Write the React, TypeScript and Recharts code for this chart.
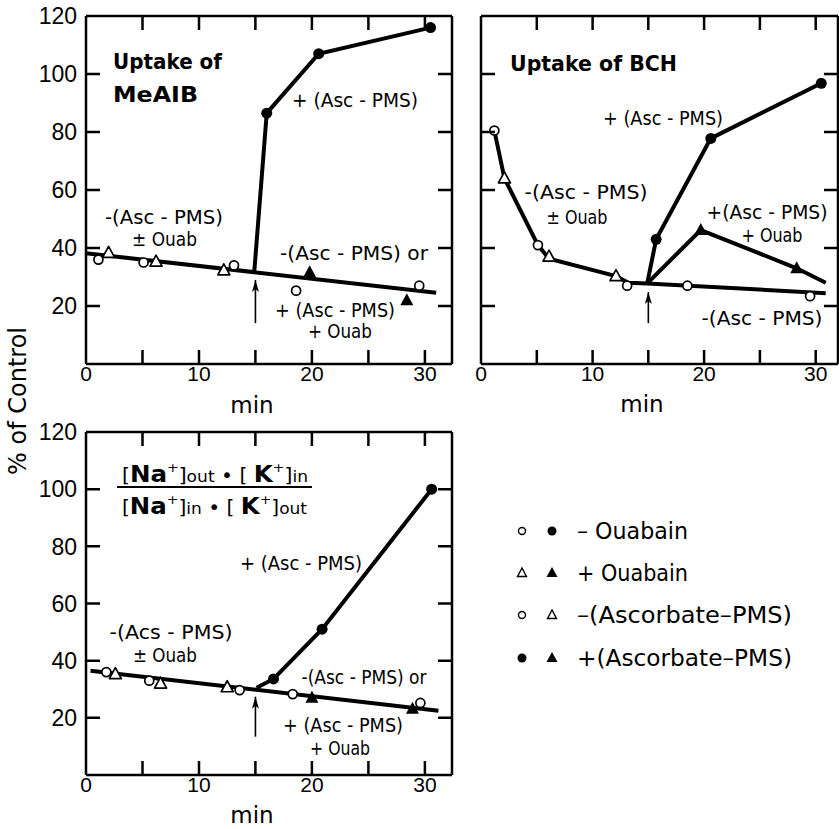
import React from 'react';
import { ComposedChart, Line, Scatter, XAxis, YAxis, ReferenceLine } from 'recharts';

const NUM_FONT = '"Liberation Sans", Arial, sans-serif';
const TXT_FONT = '"DejaVu Sans", "Liberation Sans", sans-serif';

type P = { x: number; y: number };

// ---------- Panel A: Uptake of MeAIB ----------
const meaibOpenCircles: P[] = [
  { x: 1.1, y: 36 }, { x: 5.1, y: 35 }, { x: 13.1, y: 34 }, { x: 18.6, y: 25.3 }, { x: 29.5, y: 27 },
];
const meaibOpenTriangles: P[] = [
  { x: 2.0, y: 38.3 }, { x: 6.2, y: 35.3 }, { x: 12.2, y: 32.3 },
];
const meaibFilledCircles: P[] = [
  { x: 16.0, y: 86.5 }, { x: 20.6, y: 107 }, { x: 30.5, y: 116 },
];
const meaibFilledTriangles: P[] = [
  { x: 19.8, y: 31.6 }, { x: 28.4, y: 22 },
];
const meaibBaseline: P[] = [{ x: 0, y: 38.2 }, { x: 31, y: 24.6 }];
const meaibAscPms: P[] = [{ x: 14.9, y: 32 }, { x: 16.0, y: 86.5 }, { x: 20.6, y: 107 }, { x: 30.5, y: 116 }];
const meaibArrow: P[] = [{ x: 15, y: 14.1 }, { x: 15, y: 29 }];

// ---------- Panel B: Uptake of BCH ----------
const bchOpenCircles: P[] = [
  { x: 1.2, y: 80.5 }, { x: 5.1, y: 41 }, { x: 13.1, y: 27 }, { x: 18.5, y: 27 }, { x: 29.5, y: 23.4 },
];
const bchOpenTriangles: P[] = [
  { x: 2.1, y: 64 }, { x: 6.1, y: 37 }, { x: 12.1, y: 30.3 },
];
const bchFilledCircles: P[] = [
  { x: 15.7, y: 43 }, { x: 20.6, y: 77.8 }, { x: 30.5, y: 96.8 },
];
const bchFilledTriangles: P[] = [
  { x: 19.7, y: 46.2 }, { x: 28.3, y: 33 },
];
const bchControl: P[] = [
  { x: 1.2, y: 80.5 }, { x: 2.1, y: 64 }, { x: 5.1, y: 41 }, { x: 6.1, y: 36.3 }, { x: 12.1, y: 30.3 },
  { x: 13.2, y: 28 }, { x: 14.9, y: 27.8 }, { x: 30.9, y: 24.4 },
];
const bchAscPms: P[] = [{ x: 14.9, y: 27.8 }, { x: 15.7, y: 43 }, { x: 20.6, y: 77.8 }, { x: 30.5, y: 96.8 }];
const bchAscPmsOuab: P[] = [{ x: 14.9, y: 27.8 }, { x: 19.7, y: 46.2 }, { x: 28.3, y: 33 }, { x: 30.9, y: 28 }];
const bchArrow: P[] = [{ x: 15, y: 14.1 }, { x: 15, y: 24.8 }];

// ---------- Panel C: Na/K ratio ----------
const ratioOpenCircles: P[] = [
  { x: 1.8, y: 36 }, { x: 5.6, y: 33 }, { x: 13.6, y: 29.7 }, { x: 18.3, y: 28.3 }, { x: 29.6, y: 25.2 },
];
const ratioOpenTriangles: P[] = [
  { x: 2.6, y: 35.3 }, { x: 6.6, y: 32 }, { x: 12.5, y: 30.7 },
];
const ratioFilledCircles: P[] = [
  { x: 16.6, y: 33.6 }, { x: 20.9, y: 51 }, { x: 30.6, y: 100 },
];
const ratioFilledTriangles: P[] = [
  { x: 20.0, y: 27 }, { x: 28.9, y: 23.2 },
];
const ratioBaseline: P[] = [{ x: 0.4, y: 36.5 }, { x: 31.2, y: 22.5 }];
const ratioAscPms: P[] = [{ x: 15.1, y: 30.5 }, { x: 16.6, y: 33.6 }, { x: 20.9, y: 51 }, { x: 30.6, y: 100 }];
const ratioArrow: P[] = [{ x: 15, y: 13.4 }, { x: 15, y: 27.4 }];

// ---------- ticks ----------
const xTicks = [0, 5, 10, 15, 20, 25, 30];
const xTickLabels = [0, 10, 20, 30];
const yTicks = [20, 40, 60, 80, 100, 120];
const yTickLabels = [20, 40, 60, 80, 100, 120];
const Y_MAX = 120;

const TICK = 14;

const bottomLabel = (props: any) => {
  const { x, y, payload } = props;
  const v = payload.value;
  if (!xTickLabels.includes(v)) return <g />;
  return (
    <text x={x} y={Number(y) + 9} dy="0.36em" textAnchor="middle" fontFamily={NUM_FONT} fontSize={21} fill="#000">
      {v}
    </text>
  );
};
const leftLabel = (showLabels: boolean) => (props: any) => {
  const { x, y, payload } = props;
  const v = payload.value;
  if (!showLabels || !yTickLabels.includes(v)) return <g />;
  return (
    <text x={Number(x) - 9} y={y} dy="0.36em" textAnchor="end" fontFamily={NUM_FONT} fontSize={23} fill="#000">
      {v}
    </text>
  );
};

// ---------- markers ----------
const OpenCircle = (p: any) => <circle cx={p.cx} cy={p.cy} r={4.5} fill="#fff" stroke="#000" strokeWidth={1.7} />;
const FilledCircle = (p: any) => <circle cx={p.cx} cy={p.cy} r={5.5} fill="#000" />;
const OpenTriangle = (p: any) => (
  <path d={`M${p.cx},${p.cy - 6.5} L${p.cx - 6},${p.cy + 4.5} L${p.cx + 6},${p.cy + 4.5} Z`} fill="#fff" stroke="#000" strokeWidth={1.7} strokeLinejoin="round" />
);
const FilledTriangle = (p: any) => (
  <path d={`M${p.cx},${p.cy - 7} L${p.cx - 6.5},${p.cy + 5} L${p.cx + 6.5},${p.cy + 5} Z`} fill="#000" />
);
const ArrowHead = (p: any) => (
  <path d={`M${p.cx},${p.cy} L${p.cx - 3.5},${p.cy + 12} L${p.cx},${p.cy + 9} L${p.cx + 3.5},${p.cy + 12} Z`} fill="#000" />
);

const axisLine = { stroke: '#000', strokeWidth: 2.5 };

type Frame = { left: number; top: number; width: number; height: number; xMax: number };

type PanelProps = {
  width: number;
  height: number;
  margin: { top: number; right: number; bottom: number; left: number };
  yAxisWidth: number;
  xAxisHeight: number;
  xMax: number;
  yLabels: boolean;
  lines: P[][];
  arrow: P[];
  openCircles: P[];
  openTriangles: P[];
  filledCircles: P[];
  filledTriangles: P[];
};

function Panel(props: PanelProps) {
  const { width, height, margin, yAxisWidth, xAxisHeight, xMax, yLabels, lines, arrow } = props;
  return (
    <ComposedChart width={width} height={height} margin={margin}>
      <XAxis
        xAxisId="b"
        dataKey="x"
        type="number"
        domain={[0, xMax]}
        ticks={xTicks}
        interval={0}
        height={xAxisHeight}
        tickSize={0}
        tickMargin={0}
        tickLine={false}
        axisLine={axisLine}
        tick={bottomLabel}
      />
      <YAxis
        yAxisId="l"
        dataKey="y"
        type="number"
        domain={[0, Y_MAX]}
        ticks={yTicks}
        interval={0}
        width={yAxisWidth}
        tickSize={0}
        tickMargin={0}
        tickLine={false}
        axisLine={axisLine}
        tick={leftLabel(yLabels)}
      />
      <ReferenceLine xAxisId="b" yAxisId="l" y={Y_MAX} stroke="#000" strokeWidth={2.5} ifOverflow="visible" />
      <ReferenceLine xAxisId="b" yAxisId="l" x={xMax} stroke="#000" strokeWidth={2.5} ifOverflow="visible" />
      {lines.map((d, i) => (
        <Line
          key={'l' + i}
          xAxisId="b"
          yAxisId="l"
          data={d}
          dataKey="y"
          type="linear"
          stroke="#000"
          strokeWidth={4}
          dot={false}
          activeDot={false}
          isAnimationActive={false}
        />
      ))}
      <Line
        xAxisId="b"
        yAxisId="l"
        data={arrow}
        dataKey="y"
        type="linear"
        stroke="#000"
        strokeWidth={1.6}
        dot={false}
        activeDot={false}
        isAnimationActive={false}
      />
      <Scatter xAxisId="b" yAxisId="l" data={[arrow[1]]} dataKey="y" shape={ArrowHead} isAnimationActive={false} />
      <Scatter xAxisId="b" yAxisId="l" data={props.openCircles} dataKey="y" shape={OpenCircle} isAnimationActive={false} />
      <Scatter xAxisId="b" yAxisId="l" data={props.openTriangles} dataKey="y" shape={OpenTriangle} isAnimationActive={false} />
      <Scatter xAxisId="b" yAxisId="l" data={props.filledCircles} dataKey="y" shape={FilledCircle} isAnimationActive={false} />
      <Scatter xAxisId="b" yAxisId="l" data={props.filledTriangles} dataKey="y" shape={FilledTriangle} isAnimationActive={false} />
    </ComposedChart>
  );
}

function FrameTicks({ f }: { f: Frame }) {
  const sx = (v: number) => f.left + (v / f.xMax) * f.width;
  const sy = (v: number) => f.top + f.height - (v / Y_MAX) * f.height;
  const bottom = f.top + f.height;
  const right = f.left + f.width;
  const innerX = xTicks.filter((v) => v !== 0);
  const innerY = yTicks.filter((v) => v !== Y_MAX);
  const segs: string[] = [];
  innerX.forEach((v) => {
    const x = sx(v).toFixed(1);
    segs.push(`M${x},${bottom} L${x},${bottom - TICK}`);
    segs.push(`M${x},${f.top} L${x},${f.top + TICK}`);
  });
  innerY.forEach((v) => {
    const y = sy(v).toFixed(1);
    segs.push(`M${f.left},${y} L${f.left + TICK},${y}`);
    segs.push(`M${right},${y} L${right - TICK},${y}`);
  });
  return <path d={segs.join(' ')} stroke="#000" strokeWidth={2.5} fill="none" />;
}

type Ann = { t: string; x: number; y: number; w: number };
const annotations: Ann[] = [
  // panel A
  { t: '+ (Asc - PMS)', x: 355, y: 107, w: 126 },
  { t: '-(Asc - PMS)', x: 164, y: 224, w: 118 },
  { t: '± Ouab', x: 164.5, y: 246, w: 65 },
  { t: '-(Asc - PMS) or', x: 354, y: 260, w: 148 },
  { t: '+ (Asc - PMS)', x: 335, y: 317, w: 120 },
  { t: '+ Ouab', x: 340, y: 338, w: 64 },
  // panel B
  { t: '+ (Asc - PMS)', x: 663, y: 125, w: 120 },
  { t: '-(Asc - PMS)', x: 586, y: 199, w: 123 },
  { t: '± Ouab', x: 577, y: 224, w: 61 },
  { t: '+(Asc - PMS)', x: 767, y: 219, w: 121 },
  { t: '+ Ouab', x: 772, y: 242, w: 61 },
  { t: '-(Asc - PMS)', x: 762, y: 325, w: 121 },
  // panel C
  { t: '+ (Asc - PMS)', x: 301, y: 570, w: 122 },
  { t: '-(Acs - PMS)', x: 171, y: 639, w: 123 },
  { t: '± Ouab', x: 165, y: 662, w: 64 },
  { t: '-(Asc - PMS) or', x: 364, y: 684, w: 125 },
  { t: '+ (Asc - PMS)', x: 343, y: 732, w: 120 },
  { t: '+ Ouab', x: 340, y: 755, w: 60 },
];

const frames: Frame[] = [
  { left: 86, top: 16, width: 366, height: 348, xMax: 32.4 },
  { left: 481, top: 16, width: 357, height: 348, xMax: 32 },
  { left: 86, top: 432, width: 366, height: 343, xMax: 32.4 },
];

function Overlay() {
  const legendX1 = 522;
  const legendX2 = 552;
  const legendTx = 577;
  const rows = [531, 573, 615, 658];
  return (
    <svg width={839} height={829} style={{ position: 'absolute', left: 0, top: 0, pointerEvents: 'none' }}>
      {frames.map((f, i) => (
        <FrameTicks key={i} f={f} />
      ))}
      {/* y axis title */}
      <text
        x={26}
        y={401}
        transform="rotate(-90, 26, 401)"
        textAnchor="middle"
        fontFamily={TXT_FONT}
        fontSize={24}
        fill="#000"
      >
        % of Control
      </text>
      {/* x axis titles */}
      <text x={252} y={413} textAnchor="middle" fontFamily={TXT_FONT} fontSize={23} fill="#000">min</text>
      <text x={642} y={412} textAnchor="middle" fontFamily={TXT_FONT} fontSize={23} fill="#000">min</text>
      <text x={252} y={823} textAnchor="middle" fontFamily={TXT_FONT} fontSize={23} fill="#000">min</text>
      {/* panel titles */}
      <text x={113} y={69} fontFamily={TXT_FONT} fontWeight="bold" fontSize={21} fill="#000" textLength={109} lengthAdjust="spacingAndGlyphs">Uptake of</text>
      <text x={113} y={102} fontFamily={TXT_FONT} fontWeight="bold" fontSize={22} fill="#000" textLength={85} lengthAdjust="spacingAndGlyphs">MeAIB</text>
      <text x={510} y={71} fontFamily={TXT_FONT} fontWeight="bold" fontSize={21} fill="#000" textLength={167} lengthAdjust="spacingAndGlyphs">Uptake of BCH</text>
      {/* fraction */}
      <text x={122} y={482} fontFamily={TXT_FONT} fontSize={19} fill="#000" textLength={186} lengthAdjust="spacingAndGlyphs">
        <tspan>[</tspan>
        <tspan fontWeight="bold" fontSize={23}>Na</tspan>
        <tspan fontSize={13} dy={-10}>+</tspan>
        <tspan dy={10}>]</tspan>
        <tspan fontSize={16}>out</tspan>
        <tspan> • [ </tspan>
        <tspan fontWeight="bold" fontSize={23}>K</tspan>
        <tspan fontSize={13} dy={-10}>+</tspan>
        <tspan dy={10}>]</tspan>
        <tspan fontSize={16}>in</tspan>
      </text>
      <line x1={117} x2={312} y1={487} y2={487} stroke="#000" strokeWidth={2} />
      <text x={122} y={514} fontFamily={TXT_FONT} fontSize={19} fill="#000" textLength={185} lengthAdjust="spacingAndGlyphs">
        <tspan>[</tspan>
        <tspan fontWeight="bold" fontSize={23}>Na</tspan>
        <tspan fontSize={13} dy={-10}>+</tspan>
        <tspan dy={10}>]</tspan>
        <tspan fontSize={16}>in</tspan>
        <tspan> • [ </tspan>
        <tspan fontWeight="bold" fontSize={23}>K</tspan>
        <tspan fontSize={13} dy={-10}>+</tspan>
        <tspan dy={10}>]</tspan>
        <tspan fontSize={16}>out</tspan>
      </text>
      {/* annotations */}
      {annotations.map((a, i) => (
        <text
          key={i}
          x={a.x - a.w / 2}
          y={a.y}
          fontFamily={TXT_FONT}
          fontSize={19.5}
          fill="#000"
          textLength={a.w}
          lengthAdjust="spacingAndGlyphs"
        >
          {a.t}
        </text>
      ))}
      {/* legend */}
      <circle cx={legendX1} cy={rows[0]} r={3.5} fill="#fff" stroke="#000" strokeWidth={1.4} />
      <circle cx={legendX2} cy={rows[0]} r={4.5} fill="#000" />
      <text x={legendTx} y={rows[0] + 8} fontFamily={TXT_FONT} fontSize={23} fill="#000" textLength={111} lengthAdjust="spacingAndGlyphs">– Ouabain</text>

      <path d={`M${legendX1},${rows[1] - 5} L${legendX1 - 4.5},${rows[1] + 3.5} L${legendX1 + 4.5},${rows[1] + 3.5} Z`} fill="#fff" stroke="#000" strokeWidth={1.4} />
      <path d={`M${legendX2},${rows[1] - 6} L${legendX2 - 5.5},${rows[1] + 4} L${legendX2 + 5.5},${rows[1] + 4} Z`} fill="#000" />
      <text x={legendTx} y={rows[1] + 8} fontFamily={TXT_FONT} fontSize={23} fill="#000" textLength={111} lengthAdjust="spacingAndGlyphs">+ Ouabain</text>

      <circle cx={legendX1} cy={rows[2]} r={3.5} fill="#fff" stroke="#000" strokeWidth={1.4} />
      <path d={`M${legendX2},${rows[2] - 5} L${legendX2 - 4.5},${rows[2] + 3.5} L${legendX2 + 4.5},${rows[2] + 3.5} Z`} fill="#fff" stroke="#000" strokeWidth={1.4} />
      <text x={legendTx} y={rows[2] + 8} fontFamily={TXT_FONT} fontSize={23} fill="#000" textLength={215} lengthAdjust="spacingAndGlyphs">–(Ascorbate–PMS)</text>

      <circle cx={legendX1} cy={rows[3]} r={4.5} fill="#000" />
      <path d={`M${legendX2},${rows[3] - 6} L${legendX2 - 5.5},${rows[3] + 4} L${legendX2 + 5.5},${rows[3] + 4} Z`} fill="#000" />
      <text x={legendTx} y={rows[3] + 8} fontFamily={TXT_FONT} fontSize={23} fill="#000" textLength={215} lengthAdjust="spacingAndGlyphs">+(Ascorbate–PMS)</text>
    </svg>
  );
}

export default function App() {
  return (
    <div style={{ position: 'absolute', left: 0, top: 0, width: 839, height: 829, overflow: 'hidden', background: '#fff' }}>
      <div style={{ position: 'absolute', left: 0, top: 0 }}>
        <Panel
          width={460}
          height={420}
          margin={{ top: 16, right: 8, bottom: 0, left: 0 }}
          yAxisWidth={86}
          xAxisHeight={56}
          xMax={32.4}
          yLabels={true}
          lines={[meaibBaseline, meaibAscPms]}
          arrow={meaibArrow}
          openCircles={meaibOpenCircles}
          openTriangles={meaibOpenTriangles}
          filledCircles={meaibFilledCircles}
          filledTriangles={meaibFilledTriangles}
        />
      </div>
      <div style={{ position: 'absolute', left: 460, top: 0 }}>
        <Panel
          width={379}
          height={420}
          margin={{ top: 16, right: 1, bottom: 0, left: 0 }}
          yAxisWidth={21}
          xAxisHeight={56}
          xMax={32}
          yLabels={false}
          lines={[bchControl, bchAscPms, bchAscPmsOuab]}
          arrow={bchArrow}
          openCircles={bchOpenCircles}
          openTriangles={bchOpenTriangles}
          filledCircles={bchFilledCircles}
          filledTriangles={bchFilledTriangles}
        />
      </div>
      <div style={{ position: 'absolute', left: 0, top: 420 }}>
        <Panel
          width={460}
          height={409}
          margin={{ top: 12, right: 8, bottom: 0, left: 0 }}
          yAxisWidth={86}
          xAxisHeight={54}
          xMax={32.4}
          yLabels={true}
          lines={[ratioBaseline, ratioAscPms]}
          arrow={ratioArrow}
          openCircles={ratioOpenCircles}
          openTriangles={ratioOpenTriangles}
          filledCircles={ratioFilledCircles}
          filledTriangles={ratioFilledTriangles}
        />
      </div>
      <Overlay />
    </div>
  );
}
